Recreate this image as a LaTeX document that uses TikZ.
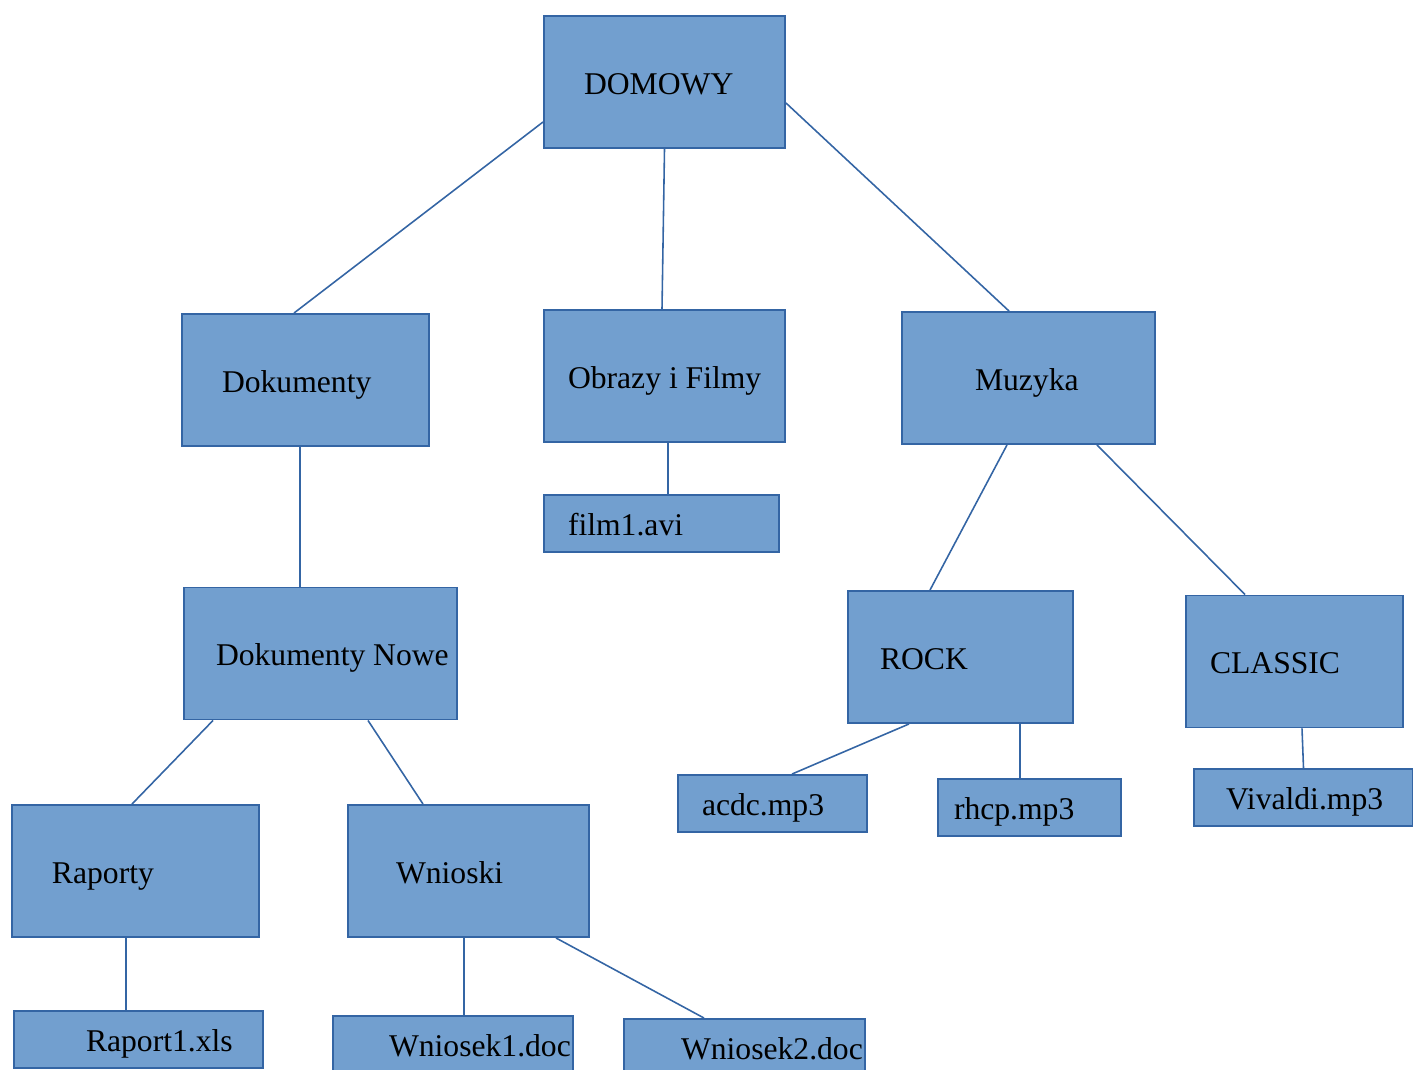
\documentclass[tikz,border=0pt]{standalone}
\usepackage{fontspec}
\setmainfont{Liberation Serif}
\usepackage{xcolor}
\usepackage{tikz}
\usetikzlibrary{calc}
\definecolor{boxfill}{HTML}{729FCF}
\definecolor{boxline}{HTML}{3465A4}
\tikzstyle{folder} = [draw=boxline, fill=boxfill, line width=1.1pt, inner xsep=0pt, inner ysep=0pt, text height=16pt, text depth=2pt, minimum height=2.64cm, font=\fontsize{18}{22}\selectfont]
\tikzstyle{file} = [folder, minimum height=1.14cm]
\tikzstyle{link} = [draw=boxline, line width=0.9pt]
\newcommand{\lefttext}[3]{\makebox[#1][l]{\hspace*{#2}#3}}

\begin{document}
\begin{tikzpicture}[y=-1cm]

	\useasboundingbox (0,0) rectangle (28.26,21.40) ;

	\node[folder] (dom) at (13.29, 1.64) {\lefttext{4.82cm}{0.80cm}{DOMOWY}} ;
	\node[folder] (dok) at (6.11, 7.60) {\lefttext{4.94cm}{0.80cm}{Dokumenty}} ;
	\node[folder] (obr) at (13.29, 7.52) {\lefttext{4.82cm}{0.48cm}{Obrazy i Filmy}} ;
	\node[folder] (muz) at (20.57, 7.56) {\lefttext{5.06cm}{1.46cm}{Muzyka}} ;
	\node[file] (film) at (13.23, 10.47) {\lefttext{4.70cm}{0.48cm}{film1.avi}} ;
	\node[folder] (dokn) at (6.41, 13.07) {\lefttext{5.46cm}{0.64cm}{Dokumenty Nowe}} ;
	\node[folder] (rock) at (19.21, 13.14) {\lefttext{4.50cm}{0.64cm}{ROCK}} ;
	\node[folder] (clas) at (25.89, 13.23) {\lefttext{4.34cm}{0.48cm}{CLASSIC}} ;
	\node[file] (acdc) at (15.45, 16.07) {\lefttext{3.78cm}{0.48cm}{acdc.mp3}} ;
	\node[file] (rhcp) at (20.59, 16.15) {\lefttext{3.66cm}{0.32cm}{rhcp.mp3}} ;
	\node[file] (viv) at (26.07, 15.95) {\lefttext{4.38cm}{0.64cm}{Vivaldi.mp3}} ;
	\node[folder] (rap) at (2.71, 17.42) {\lefttext{4.94cm}{0.80cm}{Raporty}} ;
	\node[folder] (wni) at (9.37, 17.42) {\lefttext{4.82cm}{0.96cm}{Wnioski}} ;
	\node[file] (rap1) at (2.77, 20.79) {\lefttext{4.98cm}{1.44cm}{Raport1.xls}} ;
	\node[file] (wn1) at (9.06, 20.89) {\lefttext{4.80cm}{1.12cm}{Wniosek1.doc}} ;
	\node[file] (wn2) at (14.89, 20.95) {\lefttext{4.82cm}{1.14cm}{Wniosek2.doc}} ;

	\draw[link] ([yshift=-0.80cm]dom.west) -- ([xshift=-0.23cm]dok.north) ;
	\draw[link] (dom.south) -- ([xshift=-0.05cm]obr.north) ;
	\draw[link] ([yshift=-0.42cm]dom.east) -- ([xshift=-0.39cm]muz.north) ;
	\draw[link] ([xshift=-0.11cm]dok.south) -- ([xshift=-0.41cm]dokn.north) ;
	\draw[link] ([xshift=0.07cm]obr.south) -- ([xshift=0.13cm]film.north) ;
	\draw[link] ([xshift=-0.43cm]muz.south) -- ([xshift=-0.61cm]rock.north) ;
	\draw[link] ([xshift=1.37cm]muz.south) -- ([xshift=-0.99cm]clas.north) ;
	\draw[link] ([xshift=-2.15cm]dokn.south) -- ([xshift=-0.07cm]rap.north) ;
	\draw[link] ([xshift=0.95cm]dokn.south) -- ([xshift=-0.91cm]wni.north) ;
	\draw[link] ([xshift=-0.19cm]rap.south) -- ([xshift=-0.25cm]rap1.north) ;
	\draw[link] ([xshift=-0.09cm]wni.south) -- ([xshift=0.22cm]wn1.north) ;
	\draw[link] ([xshift=1.75cm]wni.south) -- ([xshift=-0.81cm]wn2.north) ;
	\draw[link] ([xshift=-1.03cm]rock.south) -- ([xshift=0.39cm]acdc.north) ;
	\draw[link] ([xshift=1.19cm]rock.south) -- ([xshift=-0.19cm]rhcp.north) ;
	\draw[link] ([xshift=0.15cm]clas.south) -- (viv.north) ;
\end{tikzpicture}
\end{document}
